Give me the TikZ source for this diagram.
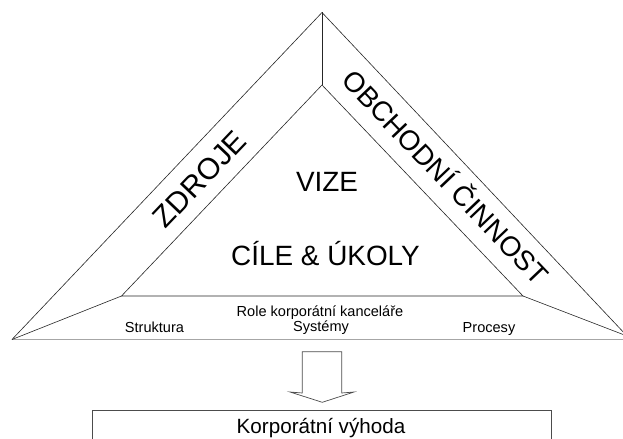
\documentclass[tikz,border=0pt]{standalone}
\usepackage{fontspec}
\setmainfont{Liberation Sans}
\begin{document}
\begin{tikzpicture}[x=1bp,y=-1bp,
  edge/.style={draw=black!85, line width=0.6bp},
  baseline rule/.style={draw=black!35, line width=0.9bp},
  frame/.style={draw=black!70, line width=0.7bp},
  big/.style={font=\fontsize{28}{32}\selectfont, inner sep=0pt},
  band/.style={font=\fontsize{30}{34}\selectfont, inner sep=0pt},
  small/.style={font=\fontsize{14.6}{17}\selectfont, inner sep=0pt, anchor=base},
  result/.style={font=\fontsize{20.7}{24}\selectfont, inner sep=0pt, anchor=base}]
\clip (0,0) rectangle (623,439);
\fill[white] (0,0) rectangle (623,439);

% corner points of the outer and inner triangles
\coordinate (apex)  at (322,12.5);
\coordinate (lc)    at (12,339.5);
\coordinate (rc)    at (627,336);
\coordinate (rb)    at (630,339.5);
\coordinate (iapex) at (322,85);
\coordinate (ibl)   at (121.5,296);
\coordinate (ibr)   at (523,296);

% base line under the pyramid
\draw[baseline rule] (lc) -- (rb);

% outer sides and the bevel edges to the inner triangle
\draw[edge] (lc) -- (apex) -- (rc);
\draw[edge] (apex) -- (iapex);
\draw[edge] (lc) -- (ibl);
\draw[edge] (rc) -- (ibr);
\draw[edge] (iapex) -- (ibl) -- (ibr) -- cycle;

% band labels
\node[band, anchor=base, rotate=46.4] (zdroje) at (207,186) {ZDROJE};
\node[big, anchor=base, rotate=-46.4] (obchod) at (438,184) {OBCHODNÍ ČINNOST};

% centre labels
\node[big, anchor=base] (vize) at (327,191.7) {VIZE};
\node[big, anchor=base] (cile) at (325.5,266) {CÍLE \& ÚKOLY};

% role of the corporate office
\node[small] (role)  at (320,316.5) {Role korporátní kanceláře};
\node[small] (sys)   at (321,331.7) {Systémy};
\node[small] (str)   at (154.5,332) {Struktura};
\node[small] (proc)  at (489,332)   {Procesy};

% block arrow down to the result
\draw[frame] (302.3,351.7) -- (341.7,351.7) -- (341.7,393) -- (354,392)
  -- (322.3,402.3) -- (290,392) -- (302.3,393) -- cycle;

% result box
\draw[frame] (92.7,410.7) rectangle (551,470);
\node[result] (vyhoda) at (321,433) {Korporátní výhoda};
\end{tikzpicture}
\end{document}
